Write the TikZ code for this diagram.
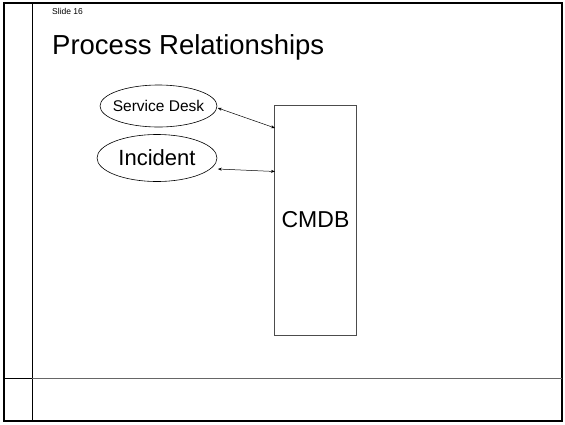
\documentclass[tikz,border=0pt]{standalone}
\usepackage{fontspec}
\setmainfont{Liberation Sans}
\usetikzlibrary{shapes.geometric,arrows.meta}
\begin{document}
\begin{tikzpicture}[x=1pt,y=-1pt,
  frame/.style={line width=2pt,draw=black},
  rule/.style={line width=1pt,draw=black!60},
  oval/.style={ellipse,draw=black,line width=0.6pt,inner sep=0pt},
  conn/.style={line width=0.5pt,<->,>={Stealth[length=4pt,width=3pt]}},
  box/.style={rectangle,draw=black!70,line width=0.8pt,inner sep=0pt}]
\useasboundingbox (0,0) rectangle (565,424);
% slide frame
\draw[frame] (4,3) rectangle (562,421);
\draw[line width=1pt] (32,3) -- (32,421);
\draw[rule] (4,378) -- (562,378);
\draw[line width=1pt] (4,378) -- (32,378);
% texts
\node[anchor=base west,inner sep=0pt,font=\fontsize{8.5}{9}\selectfont] (slide) at (52,14) {Slide 16};
\node[anchor=base west,inner sep=0pt,font=\fontsize{27.5}{29}\selectfont] (title) at (52,54) {Process Relationships};
% nodes
\node[oval,minimum width=117,minimum height=42,
  label={[inner sep=0pt,font=\fontsize{15.5}{17}\selectfont]center:Service Desk}] (sd) at (158.5,106) {};
\node[oval,minimum width=120,minimum height=47,
  label={[inner sep=0pt,font=\fontsize{22}{24}\selectfont]center:Incident}] (inc) at (157,158) {};
\node[box,minimum width=82,minimum height=230,font=\fontsize{23}{25}\selectfont] (cmdb) at (315.5,220) {CMDB};
\coordinate (c1) at (275,128);
\coordinate (c2) at (275,171.5);
\draw[conn] (sd.east) ++(0.5,2) -- (c1);
\draw[conn] (inc.east) ++(0.5,11) -- (c2);
\end{tikzpicture}
\end{document}
